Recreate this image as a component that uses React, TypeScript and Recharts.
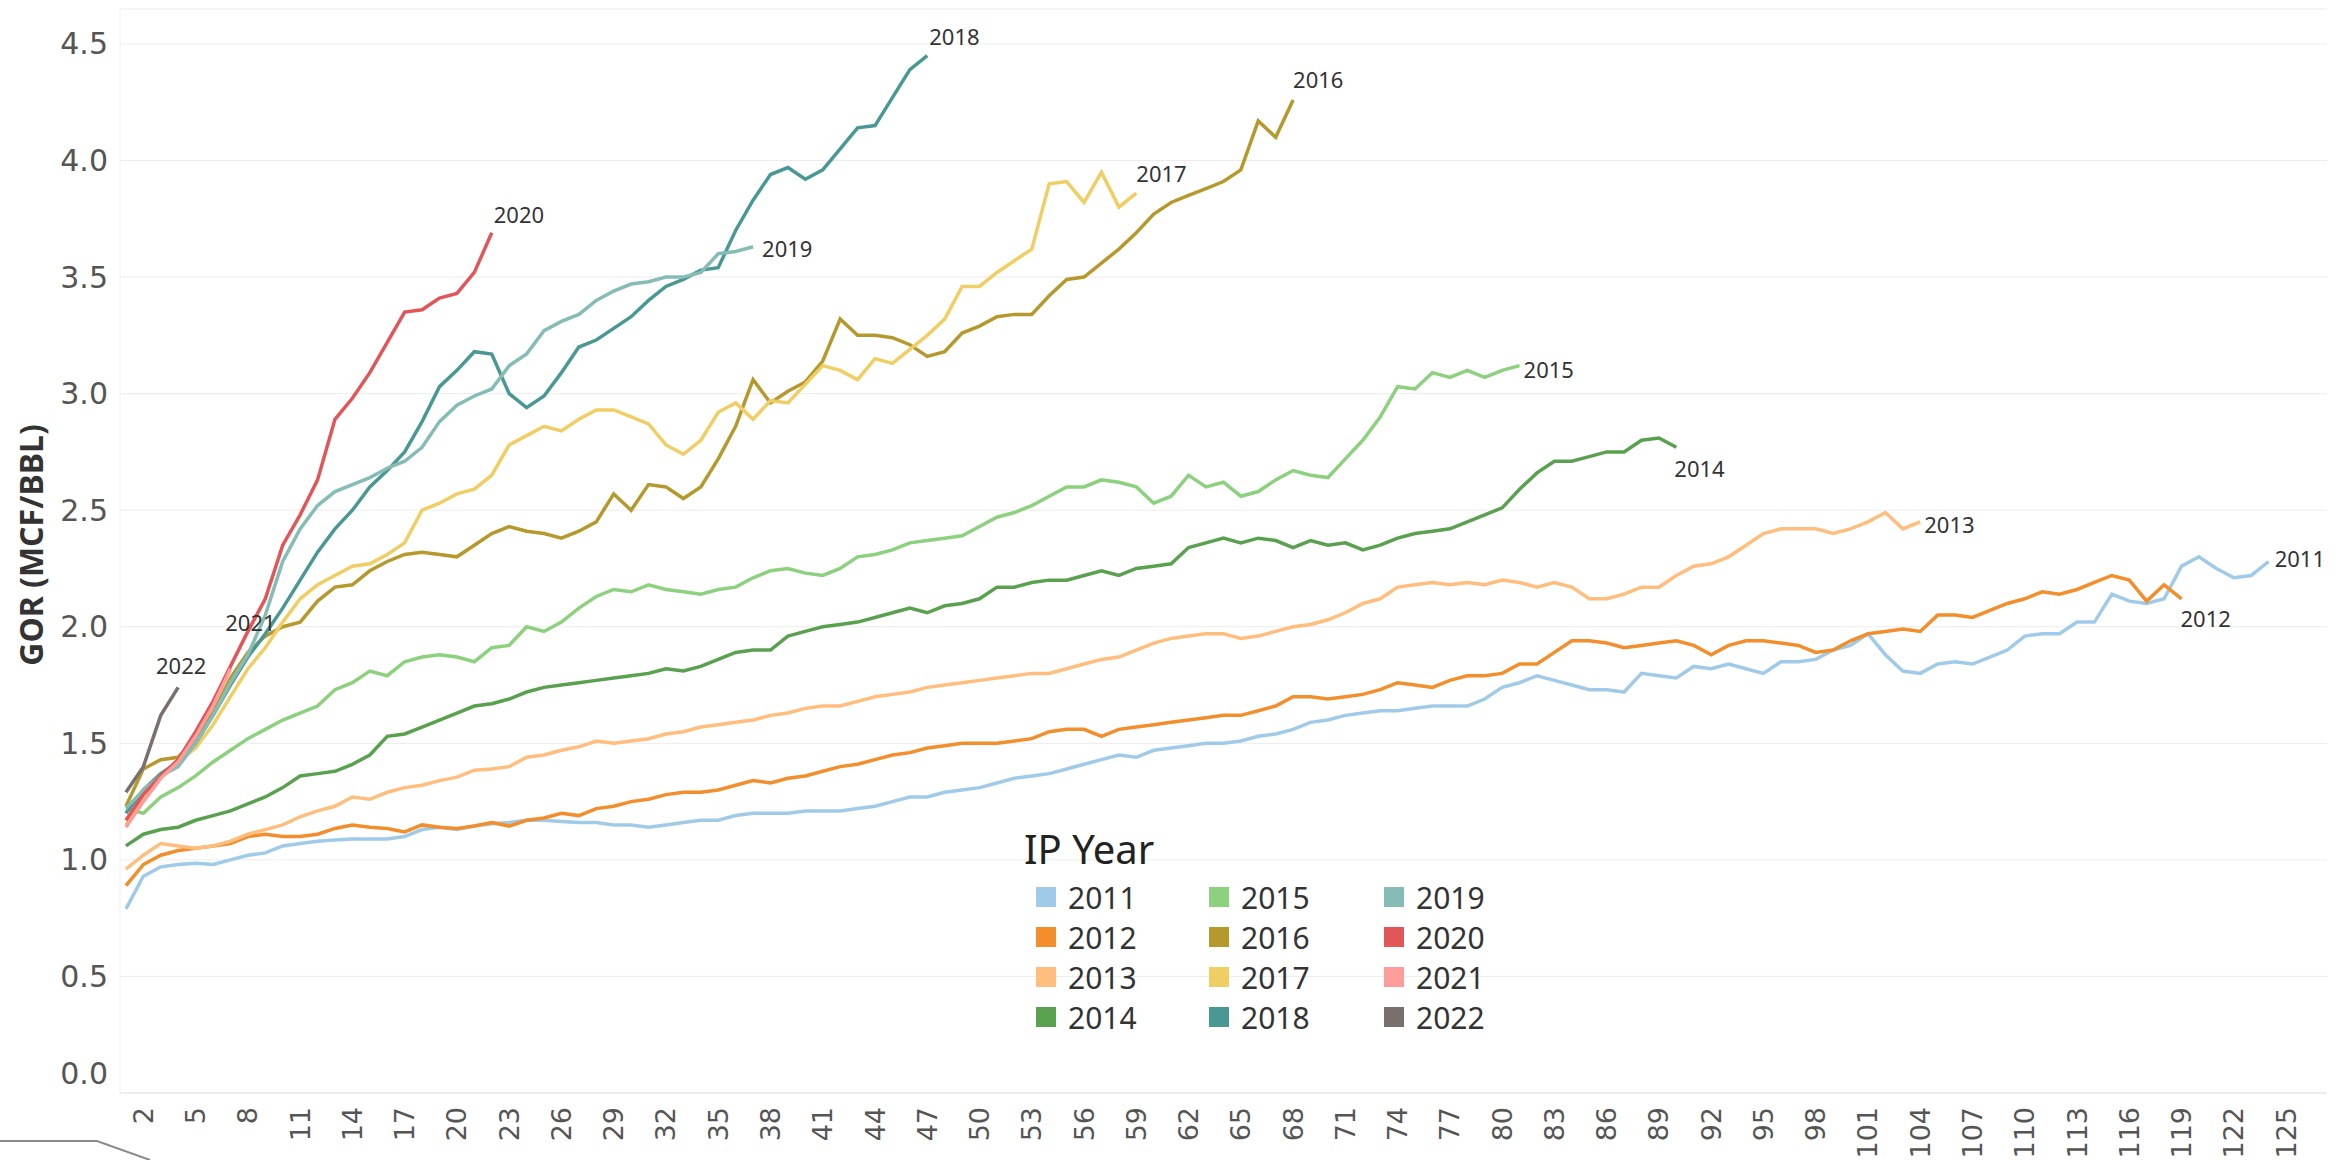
import React from 'react'
import { LineChart, Line, XAxis, YAxis, CartesianGrid, LabelList } from 'recharts'

// months on production (x categories)
const months = Array.from({ length: 124 }, (_, i) => i + 1)
const xTicks = [2, 5, 8, 11, 14, 17, 20, 23, 26, 29, 32, 35, 38, 41, 44, 47, 50, 53, 56, 59, 62, 65, 68, 71, 74, 77, 80, 83, 86, 89, 92, 95, 98, 101, 104, 107, 110, 113, 116, 119, 122, 125]
const yTicks = [0, 0.5, 1, 1.5, 2, 2.5, 3, 3.5, 4, 4.5]

const gor2011 = [
  0.79, 0.93, 0.97, 0.98, 0.985, 0.98, 1.0, 1.02, 1.03, 1.06,
  1.07, 1.08, 1.085, 1.09, 1.09, 1.09, 1.10, 1.13, 1.14, 1.13,
  1.145, 1.155, 1.16, 1.17, 1.17, 1.165, 1.16, 1.16, 1.15, 1.15,
  1.14, 1.15, 1.16, 1.17, 1.17, 1.19, 1.20, 1.20, 1.20, 1.21,
  1.21, 1.21, 1.22, 1.23, 1.25, 1.27, 1.27, 1.29, 1.30, 1.31,
  1.33, 1.35, 1.36, 1.37, 1.39, 1.41, 1.43, 1.45, 1.44, 1.47,
  1.48, 1.49, 1.50, 1.50, 1.51, 1.53, 1.54, 1.56, 1.59, 1.60,
  1.62, 1.63, 1.64, 1.64, 1.65, 1.66, 1.66, 1.66, 1.69, 1.74,
  1.76, 1.79, 1.77, 1.75, 1.73, 1.73, 1.72, 1.80, 1.79, 1.78,
  1.83, 1.82, 1.84, 1.82, 1.80, 1.85, 1.85, 1.86, 1.90, 1.92,
  1.97, 1.88, 1.81, 1.80, 1.84, 1.85, 1.84, 1.87, 1.90, 1.96,
  1.97, 1.97, 2.02, 2.02, 2.14, 2.11, 2.10, 2.12, 2.26, 2.30,
  2.25, 2.21, 2.22, 2.28,
]
const gor2012 = [
  0.89, 0.98, 1.02, 1.04, 1.05, 1.06, 1.07, 1.10, 1.11, 1.10,
  1.10, 1.11, 1.135, 1.15, 1.14, 1.135, 1.12, 1.15, 1.14, 1.135,
  1.145, 1.16, 1.145, 1.17, 1.18, 1.20, 1.19, 1.22, 1.23, 1.25,
  1.26, 1.28, 1.29, 1.29, 1.30, 1.32, 1.34, 1.33, 1.35, 1.36,
  1.38, 1.40, 1.41, 1.43, 1.45, 1.46, 1.48, 1.49, 1.50, 1.50,
  1.50, 1.51, 1.52, 1.55, 1.56, 1.56, 1.53, 1.56, 1.57, 1.58,
  1.59, 1.60, 1.61, 1.62, 1.62, 1.64, 1.66, 1.70, 1.70, 1.69,
  1.70, 1.71, 1.73, 1.76, 1.75, 1.74, 1.77, 1.79, 1.79, 1.80,
  1.84, 1.84, 1.89, 1.94, 1.94, 1.93, 1.91, 1.92, 1.93, 1.94,
  1.92, 1.88, 1.92, 1.94, 1.94, 1.93, 1.92, 1.89, 1.90, 1.94,
  1.97, 1.98, 1.99, 1.98, 2.05, 2.05, 2.04, 2.07, 2.10, 2.12,
  2.15, 2.14, 2.16, 2.19, 2.22, 2.20, 2.11, 2.18, 2.12,
]
const gor2013 = [
  0.96, 1.02, 1.07, 1.06, 1.05, 1.06, 1.08, 1.11, 1.13, 1.15,
  1.185, 1.21, 1.23, 1.27, 1.26, 1.29, 1.31, 1.32, 1.34, 1.355,
  1.385, 1.39, 1.40, 1.44, 1.45, 1.47, 1.485, 1.51, 1.50, 1.51,
  1.52, 1.54, 1.55, 1.57, 1.58, 1.59, 1.60, 1.62, 1.63, 1.65,
  1.66, 1.66, 1.68, 1.70, 1.71, 1.72, 1.74, 1.75, 1.76, 1.77,
  1.78, 1.79, 1.80, 1.80, 1.82, 1.84, 1.86, 1.87, 1.90, 1.93,
  1.95, 1.96, 1.97, 1.97, 1.95, 1.96, 1.98, 2.00, 2.01, 2.03,
  2.06, 2.10, 2.12, 2.17, 2.18, 2.19, 2.18, 2.19, 2.18, 2.20,
  2.19, 2.17, 2.19, 2.17, 2.12, 2.12, 2.14, 2.17, 2.17, 2.22,
  2.26, 2.27, 2.30, 2.35, 2.40, 2.42, 2.42, 2.42, 2.40, 2.42,
  2.45, 2.49, 2.42, 2.45,
]
const gor2014 = [
  1.06, 1.11, 1.13, 1.14, 1.17, 1.19, 1.21, 1.24, 1.27, 1.31,
  1.36, 1.37, 1.38, 1.41, 1.45, 1.53, 1.54, 1.57, 1.60, 1.63,
  1.66, 1.67, 1.69, 1.72, 1.74, 1.75, 1.76, 1.77, 1.78, 1.79,
  1.80, 1.82, 1.81, 1.83, 1.86, 1.89, 1.90, 1.90, 1.96, 1.98,
  2.00, 2.01, 2.02, 2.04, 2.06, 2.08, 2.06, 2.09, 2.10, 2.12,
  2.17, 2.17, 2.19, 2.20, 2.20, 2.22, 2.24, 2.22, 2.25, 2.26,
  2.27, 2.34, 2.36, 2.38, 2.36, 2.38, 2.37, 2.34, 2.37, 2.35,
  2.36, 2.33, 2.35, 2.38, 2.40, 2.41, 2.42, 2.45, 2.48, 2.51,
  2.59, 2.66, 2.71, 2.71, 2.73, 2.75, 2.75, 2.80, 2.81, 2.77,
]
const gor2015 = [
  1.22, 1.20, 1.27, 1.31, 1.36, 1.42, 1.47, 1.52, 1.56, 1.60,
  1.63, 1.66, 1.73, 1.76, 1.81, 1.79, 1.85, 1.87, 1.88, 1.87,
  1.85, 1.91, 1.92, 2.00, 1.98, 2.02, 2.08, 2.13, 2.16, 2.15,
  2.18, 2.16, 2.15, 2.14, 2.16, 2.17, 2.21, 2.24, 2.25, 2.23,
  2.22, 2.25, 2.30, 2.31, 2.33, 2.36, 2.37, 2.38, 2.39, 2.43,
  2.47, 2.49, 2.52, 2.56, 2.60, 2.60, 2.63, 2.62, 2.60, 2.53,
  2.56, 2.65, 2.60, 2.62, 2.56, 2.58, 2.63, 2.67, 2.65, 2.64,
  2.72, 2.80, 2.90, 3.03, 3.02, 3.09, 3.07, 3.10, 3.07, 3.10,
  3.12,
]
const gor2016 = [
  1.23, 1.39, 1.43, 1.44, 1.52, 1.63, 1.78, 1.89, 1.96, 2.00,
  2.02, 2.11, 2.17, 2.18, 2.24, 2.28, 2.31, 2.32, 2.31, 2.30,
  2.35, 2.40, 2.43, 2.41, 2.40, 2.38, 2.41, 2.45, 2.57, 2.50,
  2.61, 2.60, 2.55, 2.60, 2.72, 2.86, 3.06, 2.96, 3.01, 3.05,
  3.14, 3.32, 3.25, 3.25, 3.24, 3.21, 3.16, 3.18, 3.26, 3.29,
  3.33, 3.34, 3.34, 3.42, 3.49, 3.50, 3.56, 3.62, 3.69, 3.77,
  3.82, 3.85, 3.88, 3.91, 3.96, 4.17, 4.10, 4.26,
]
const gor2017 = [
  1.15, 1.27, 1.36, 1.42, 1.48, 1.58, 1.70, 1.82, 1.91, 2.02,
  2.12, 2.18, 2.22, 2.26, 2.27, 2.31, 2.36, 2.50, 2.53, 2.57,
  2.59, 2.65, 2.78, 2.82, 2.86, 2.84, 2.89, 2.93, 2.93, 2.90,
  2.87, 2.78, 2.74, 2.80, 2.92, 2.96, 2.89, 2.97, 2.96, 3.04,
  3.12, 3.10, 3.06, 3.15, 3.13, 3.19, 3.25, 3.32, 3.46, 3.46,
  3.52, 3.57, 3.62, 3.90, 3.91, 3.82, 3.95, 3.80, 3.86,
]
const gor2018 = [
  1.20, 1.30, 1.37, 1.42, 1.50, 1.62, 1.75, 1.87, 1.97, 2.08,
  2.20, 2.32, 2.42, 2.50, 2.60, 2.67, 2.75, 2.88, 3.03, 3.10,
  3.18, 3.17, 3.00, 2.94, 2.99, 3.09, 3.20, 3.23, 3.28, 3.33,
  3.40, 3.46, 3.49, 3.53, 3.54, 3.70, 3.83, 3.94, 3.97, 3.92,
  3.96, 4.05, 4.14, 4.15, 4.27, 4.39, 4.45,
]
const gor2019 = [
  1.22, 1.30, 1.36, 1.40, 1.50, 1.62, 1.76, 1.88, 2.05, 2.28,
  2.42, 2.52, 2.58, 2.61, 2.64, 2.68, 2.71, 2.77, 2.88, 2.95,
  2.99, 3.02, 3.12, 3.17, 3.27, 3.31, 3.34, 3.40, 3.44, 3.47,
  3.48, 3.50, 3.50, 3.52, 3.60, 3.61, 3.63,
]
const gor2020 = [
  1.17, 1.28, 1.36, 1.43, 1.55, 1.68, 1.83, 1.98, 2.12, 2.35,
  2.48, 2.63, 2.89, 2.98, 3.09, 3.22, 3.35, 3.36, 3.41, 3.43,
  3.52, 3.69,
]
const gor2021 = [1.14, 1.25, 1.35, 1.42, 1.53, 1.66, 1.82]
const gor2022 = [1.29, 1.40, 1.62, 1.74]

const series = [
  { year: '2011', data: gor2011, color: '#a0cbe8', dx: 6, dy: -3, anchor: 'start' },
  { year: '2012', data: gor2012, color: '#f28e2b', dx: -1, dy: 19, anchor: 'start' },
  { year: '2013', data: gor2013, color: '#ffbe7d', dx: 4, dy: 2, anchor: 'start' },
  { year: '2014', data: gor2014, color: '#59a14f', dx: -2, dy: 21, anchor: 'start' },
  { year: '2015', data: gor2015, color: '#8cd17d', dx: 4, dy: 3, anchor: 'start' },
  { year: '2016', data: gor2016, color: '#b6992d', dx: 0, dy: -21, anchor: 'start' },
  { year: '2017', data: gor2017, color: '#f1ce63', dx: 0, dy: -20, anchor: 'start' },
  { year: '2018', data: gor2018, color: '#499894', dx: 2, dy: -20, anchor: 'start' },
  { year: '2019', data: gor2019, color: '#86bcb6', dx: 9, dy: 1, anchor: 'start' },
  { year: '2020', data: gor2020, color: '#e15759', dx: 2, dy: -19, anchor: 'start' },
  { year: '2021', data: gor2021, color: '#ff9d9a', dx: 20, dy: -47, anchor: 'middle' },
  { year: '2022', data: gor2022, color: '#79706e', dx: 3, dy: -22, anchor: 'middle' },
]

const rows = months.map((m, i) => {
  const row: Record<string, number | undefined> = { month: m }
  series.forEach(s => { row['y' + s.year] = s.data[i] })
  return row
})

const tickFont = '"DejaVu Sans", sans-serif'
const textFont = '"Noto Sans", sans-serif'

const YTick = ({ y, payload }: any) => (
  <text x={108} y={payload.value === 0 ? y - 20 : y} textAnchor="end" dominantBaseline="central"
    fontFamily={tickFont} fontSize={30} fill="#555">
    {Number(payload.value).toFixed(1)}
  </text>
)

const XTick = ({ x, y, payload }: any) => (
  <text transform={`translate(${x},${y + 6}) rotate(-90)`} textAnchor="end" dominantBaseline="central"
    fontFamily={tickFont} fontSize={27} fill="#555">
    {payload.value}
  </text>
)

const YTitle = () => (
  <text x={30} y={545} transform="rotate(-90 30 545)" textAnchor="middle" dominantBaseline="central"
    fontFamily={textFont} fontSize={32} fontWeight={700} fill="#333">
    GOR (MCF/BBL)
  </text>
)

const endLabel = (s: typeof series[number]) => (props: any) => {
  const { x, y, index } = props
  if (index !== s.data.length - 1) return null
  return (
    <text x={x + s.dx} y={y + s.dy} textAnchor={s.anchor as any} dominantBaseline="central"
      fontFamily={textFont} fontSize={22} fill="#333">
      {s.year}
    </text>
  )
}

// legend grid: 3 columns x 4 rows
const legendColX = [1036, 1209, 1384]
const legendRowY = [897, 937, 977, 1017]

function IpYearLegend() {
  return (
    <div style={{ position: 'absolute', left: 0, top: 0, fontFamily: textFont, color: '#333' }}>
      <div style={{ position: 'absolute', left: 1024, top: 823, fontSize: 40, lineHeight: '52px', color: '#222', whiteSpace: 'nowrap' }}>IP Year</div>
      {series.map((s, k) => {
        const cx = legendColX[Math.floor(k / 4)]
        const cy = legendRowY[k % 4]
        return (
          <div key={s.year} style={{ position: 'absolute', left: cx, top: cy - 20, height: 40, display: 'flex', alignItems: 'center', whiteSpace: 'nowrap' }}>
            <span style={{ display: 'inline-block', width: 20, height: 20, background: s.color, marginRight: 12 }} />
            <span style={{ fontSize: 30 }}>{s.year}</span>
          </div>
        )
      })}
    </div>
  )
}

export default function App() {
  return (
    <div style={{ position: 'absolute', left: 0, top: 0, width: 2344, height: 1160, background: '#fff' }}>
      <LineChart width={2344} height={1160} data={rows} margin={{ top: 9, right: 17, bottom: 0, left: 0 }}>
        <CartesianGrid vertical={false} stroke="#ececec" />
        <XAxis dataKey="month" type="number" domain={[0.66, 127.35]} ticks={xTicks} interval={0}
          height={67} tickLine={false} axisLine={{ stroke: '#e6e6e6' }} tick={<XTick />} allowDataOverflow />
        <YAxis type="number" domain={[0, 4.65]} ticks={yTicks} width={120} tickLine={false}
          axisLine={{ stroke: '#f0f0f0' }} tick={<YTick />} label={() => <YTitle />} />
        {series.map(s => (
          <Line key={s.year} type="linear" dataKey={'y' + s.year} stroke={s.color} strokeWidth={3.5}
            dot={false} activeDot={false} isAnimationActive={false} connectNulls={false}>
            <LabelList dataKey={'y' + s.year} content={endLabel(s)} />
          </Line>
        ))}
      </LineChart>
      <IpYearLegend />
      <svg style={{ position: 'absolute', left: 0, top: 0 }} width={200} height={1160}>
        <polyline points="0,1141 97,1141 150,1160" fill="none" stroke="#8a8a8a" strokeWidth={2} />
      </svg>
    </div>
  )
}
